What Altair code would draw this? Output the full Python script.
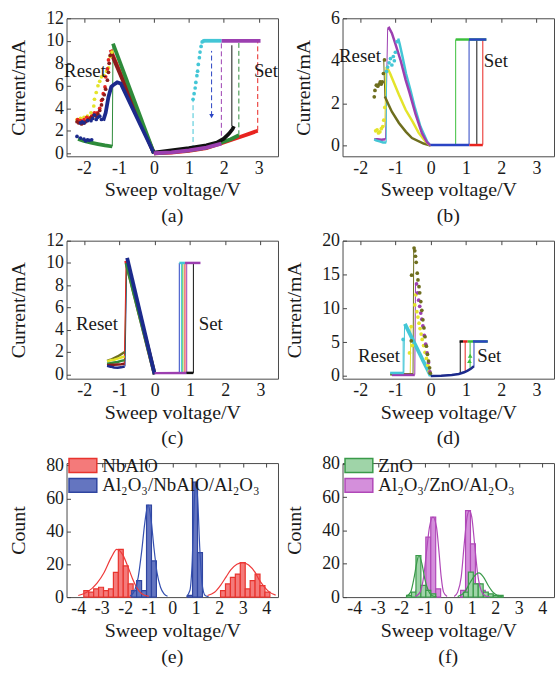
import altair as alt
import pandas as pd

FONT = "Liberation Serif"
TXT = "#1a1a1a"
MINUS = "replace(datum.label, '\u2212', '-')"

# ---------------- panel (a) ----------------
A_RED_RESET_V = [0, -1.24]
A_RED_RESET_I = [0, 9.2]
A_MAROON_RESET_V = [0, -1.22]
A_MAROON_RESET_I = [0, 8.9]
A_GREEN_RESET_V = [0, -1.17]
A_GREEN_RESET_I = [0, 9.75]
A_GREEN_DROP_V = [-1.17, -1.19]
A_GREEN_DROP_I = [9.7, 0.62]
A_GREEN_TAIL_V = [-1.19, -1.4, -1.6, -1.8, -2.0, -2.17]
A_GREEN_TAIL_I = [0.6, 0.7, 0.82, 0.95, 1.1, 1.28]
A_NAVY_RESET_V = [0, -0.95, -1.05, -1.15, -1.22, -1.3, -1.38, -1.45]
A_NAVY_RESET_I = [0, 6.2, 6.3, 6.1, 5.9, 5.0, 3.6, 2.9]
A_NAVY_PTS_V = [-1.5, -1.55, -1.6, -1.65, -1.7, -1.75, -1.8, -1.9, -2.0, -2.05, -2.1,
                -1.78, -1.85, -1.9, -1.95, -2.0, -2.1, -2.2]
A_NAVY_PTS_I = [3.0, 3.3, 3.2, 3.0, 3.4, 3.1, 2.9, 2.9, 2.7, 2.8, 2.7,
                1.2, 1.15, 1.2, 1.1, 1.25, 1.35, 1.5]
A_MAROON_PTS_V = [-1.25, -1.28, -1.3, -1.33, -1.38, -1.42, -1.47, -1.5, -1.55, -1.6, -1.65,
                  -1.72, -1.8, -1.88, -1.95, -2.0, -2.07, -2.15, -2.2]
A_MAROON_PTS_I = [8.7, 8.0, 7.2, 6.5, 5.7, 5.2, 4.8, 4.3, 3.8, 3.5, 3.3,
                  3.4, 3.2, 3.0, 2.8, 2.7, 2.6, 2.7, 2.8]
A_RED_PTS_V = [-1.3, -1.33, -1.38, -1.4, -1.45, -1.5, -1.55, -1.62, -1.7, -1.78, -1.85,
               -1.92, -2.0, -2.1, -2.18]
A_RED_PTS_I = [8.3, 7.5, 6.8, 5.9, 5.3, 4.7, 4.0, 3.6, 3.6, 3.3, 3.1, 3.2, 3.0, 2.9, 3.0]
A_YELLOW_PTS_V = [-1.2, -1.25, -1.3, -1.35, -1.42, -1.5, -1.55, -1.6, -1.65, -1.7, -1.72,
                  -1.8, -1.9, -2.0, -2.1, -2.2]
A_YELLOW_PTS_I = [9.0, 8.6, 7.6, 7.3, 6.9, 6.8, 6.4, 6.0, 5.4, 4.8, 4.2,
                  3.6, 3.3, 3.2, 3.1, 3.0]
A_RED_SET_V = [0, 0.5, 1.0, 1.5, 2.0, 2.4, 2.7, 2.97]
A_RED_SET_I = [0, 0.05, 0.2, 0.45, 0.95, 1.38, 1.7, 2.0]
A_RED_JUMP_V = [2.97, 2.97]
A_RED_JUMP_I = [2.0, 10.0]
A_GREEN_SET_V = [0, 1.0, 1.5, 1.9, 2.2, 2.43]
A_GREEN_SET_I = [0, 0.25, 0.5, 0.92, 1.25, 1.6]
A_GREEN_JUMP_V = [2.43, 2.43]
A_GREEN_JUMP_I = [1.6, 10.0]
A_BLACK_SET_V = [0, 0.5, 1.0, 1.5, 1.8, 2.0, 2.15, 2.25, 2.29]
A_BLACK_SET_I = [0.05, 0.25, 0.45, 0.7, 0.95, 1.3, 1.75, 2.15, 2.4]
A_BLACK_JUMP_V = [2.23, 2.23]
A_BLACK_JUMP_I = [2.4, 9.6]
A_PURPLE_SET_V = [0, 0.5, 1.0, 1.5, 1.93]
A_PURPLE_SET_I = [0, 0.08, 0.25, 0.5, 0.85]
A_PURPLE_JUMP_V = [1.93, 1.93]
A_PURPLE_JUMP_I = [0.85, 10.0]
A_PURPLE_TOP_V = [1.93, 3.05]
A_PURPLE_TOP_I = [10.0, 10.0]
A_CYAN_JUMP_V = [1.12, 1.12]
A_CYAN_JUMP_I = [0.3, 4.8]
A_CYAN_PTS_V = [1.12, 1.15, 1.18, 1.2, 1.23, 1.25, 1.27, 1.3, 1.32, 1.35, 1.38, 1.42]
A_CYAN_PTS_I = [4.8, 5.3, 5.8, 6.3, 6.9, 7.3, 7.9, 8.5, 9.0, 9.5, 9.9, 10.0]
A_CYAN_TOP_V = [1.42, 1.93]
A_CYAN_TOP_I = [10.0, 10.0]
A_BLUE_JUMP_V = [1.65, 1.65]
A_BLUE_JUMP_I = [3.3, 9.1]
A_BLUE_TRI_V = [1.65]
A_BLUE_TRI_I = [3.3]

# ---------------- panel (b) ----------------
B_PURPLE_V = [0, -0.1, -0.25, -0.43, -0.6, -0.71, -0.85, -1.0, -1.1, -1.18, -1.22]
B_PURPLE_I = [0, 0.15, 0.6, 1.5, 2.5, 3.1, 4.0, 4.8, 5.3, 5.55, 5.5]
B_PURPLE_DROP_V = [-1.22, -1.28]
B_PURPLE_DROP_I = [5.5, 0.3]
B_PURPLE_LOW_V = [-1.28, -1.4, -1.5, -1.6]
B_PURPLE_LOW_I = [0.3, 0.28, 0.3, 0.3]
B_CYAN_V = [0, -0.1, -0.29, -0.45, -0.57, -0.7, -0.8, -0.88, -0.92]
B_CYAN_I = [0, 0.2, 0.9, 1.8, 2.6, 3.4, 4.2, 4.8, 5.05]
B_CYAN_PTS_V = [-0.95, -1.0, -1.03, -1.06, -1.1, -1.14, -1.18, -1.22, -1.25]
B_CYAN_PTS_I = [4.9, 4.4, 4.0, 4.2, 3.8, 4.1, 3.9, 3.7, 3.5]
B_CYAN_DROP_V = [-1.25, -1.26]
B_CYAN_DROP_I = [3.5, 0.15]
B_CYAN_LOW_V = [-1.26, -1.35, -1.45, -1.55, -1.6]
B_CYAN_LOW_I = [0.15, 0.15, 0.2, 0.25, 0.3]
B_YELLOW_V = [0, -0.15, -0.34, -0.5, -0.71, -0.9, -1.05, -1.15, -1.25]
B_YELLOW_I = [0, 0.2, 0.6, 1.1, 1.69, 2.4, 3.0, 3.4, 3.73]
B_YELLOW_DROP_V = [-1.27, -1.3]
B_YELLOW_DROP_I = [3.7, 0.9]
B_YELLOW_PTS_V = [-1.3, -1.33, -1.36, -1.4, -1.44, -1.48, -1.52, -1.56]
B_YELLOW_PTS_I = [1.8, 1.2, 0.9, 0.8, 0.65, 0.6, 0.75, 0.7]
B_OLIVE_V = [0, -0.2, -0.53, -0.7, -0.9, -1.1, -1.2, -1.3]
B_OLIVE_I = [0, 0.1, 0.36, 0.65, 1.07, 1.6, 1.95, 2.32]
B_OLIVE_RISE_V = [-1.3, -1.33]
B_OLIVE_RISE_I = [2.3, 4.0]
B_OLIVE_PTS_V = [-1.31, -1.34, -1.37, -1.4, -1.43, -1.46, -1.5, -1.54, -1.58, -1.6]
B_OLIVE_PTS_I = [4.04, 3.4, 3.0, 2.9, 3.0, 2.9, 2.8, 2.85, 2.6, 2.3]
B_LOW_BLUE_V = [0, 1.1]
B_LOW_BLUE_I = [0.03, 0.03]
B_LOW_RED_V = [1.1, 1.48]
B_LOW_RED_I = [0.03, 0.03]
B_SET_GREEN_V = [0.71, 0.71]
B_SET_BLUE_V = [1.09, 1.09]
B_SET_BLACK_V = [1.31, 1.31]
B_SET_RED_V = [1.48, 1.48]
B_SET_I = [0.05, 5.0]
B_TOP_GREEN_V = [0.71, 1.58]
B_TOP_BLUE_V = [1.09, 1.58]
B_TOP_I = [5.0, 5.0]

# ---------------- panel (c) ----------------
C_RED_RESET_V = [0, -0.81]
C_RED_RESET_I = [0, 10.2]
C_GREEN_RESET_V = [0, -0.8]
C_GREEN_RESET_I = [0, 10.0]
C_BLUE_RESET_V = [0, -0.78]
C_BLUE_RESET_I = [0, 10.45]
C_BLUE_DROP_V = [-0.79, -0.84]
C_BLUE_DROP_I = [10.3, 0.7]
C_GREEN_DROP_V = [-0.8, -0.85]
C_GREEN_DROP_I = [10.0, 1.2]
C_RED_DROP_V = [-0.81, -0.86]
C_RED_DROP_I = [10.1, 0.95]
C_LOW_V = [-0.85, -0.95, -1.05, -1.15, -1.25, -1.35]
C_LOW_OLIVE_I = [2.0, 1.8, 1.6, 1.45, 1.3, 1.2]
C_LOW_YELLOW_I = [1.6, 1.5, 1.4, 1.3, 1.25, 1.15]
C_LOW_GREEN_I = [1.25, 1.2, 1.1, 1.05, 1.0, 0.95]
C_LOW_RED_I = [0.95, 0.9, 0.88, 0.85, 0.85, 0.8]
C_LOW_BLUE_I = [0.7, 0.62, 0.58, 0.6, 0.68, 0.75]
C_SET_I = [0.12, 10.0]
C_SET_BLUE_V = [0.70, 0.70]
C_SET_CYAN_V = [0.76, 0.76]
C_SET_GREEN_V = [0.80, 0.80]
C_SET_RED_V = [0.86, 0.86]
C_SET_PURPLE_V = [0.91, 0.91]
C_SET_BLACK_V = [1.10, 1.10]
C_FLAT_PURPLE_V = [0, 0.9]
C_FLAT_PURPLE_I = [0.1, 0.12]
C_FLAT_BLACK_V = [0.9, 1.1]
C_FLAT_BLACK_I = [0.12, 0.12]
C_TOP_CYAN_V = [0.7, 0.86]
C_TOP_PURPLE_V = [0.86, 1.3]
C_TOP_I = [10.0, 10.0]

# ---------------- panel (d) ----------------
D_OLIVE_PTS_V = [-0.47, -0.45, -0.43, -0.41, -0.38, -0.36, -0.33, -0.31, -0.28, -0.25, -0.22,
                 -0.19, -0.16, -0.12, -0.09, -0.06, -0.03, -0.01, -0.54, -0.55]
D_OLIVE_PTS_I = [18.9, 18.5, 17.7, 16.8, 15.2, 14.2, 13.2, 12.3, 11.0, 9.7, 8.3,
                 7.1, 5.8, 4.4, 3.2, 2.2, 1.2, 0.4, 14.9, 5.2]
D_OLIVE_JUMP_V = [-0.5, -0.48]
D_OLIVE_JUMP_I = [0.3, 18.8]
D_OLIVE_LOW_V = [-1.15, -0.5]
D_OLIVE_LOW_I = [0.25, 0.25]
D_PURPLE_PTS_V = [-0.4, -0.37, -0.34, -0.31, -0.28, -0.25, -0.22, -0.18, -0.14, -0.1, -0.06, -0.02]
D_PURPLE_PTS_I = [13.6, 12.3, 11.2, 10.3, 9.3, 8.4, 7.4, 6.0, 4.7, 3.4, 2.0, 0.6]
D_PURPLE_JUMP_V = [-0.45, -0.43]
D_PURPLE_JUMP_I = [0.2, 13.5]
D_PURPLE_LOW_V = [-1.1, -0.45]
D_PURPLE_LOW_I = [0.15, 0.15]
D_YELLOW_PTS_V = [-0.45, -0.42, -0.39, -0.36, -0.33, -0.3, -0.27, -0.24, -0.2, -0.16, -0.12,
                  -0.08, -0.04, -0.55, -0.6, -0.52]
D_YELLOW_PTS_I = [10.5, 12.0, 9.5, 8.7, 7.8, 7.0, 6.2, 5.4, 4.5, 3.5, 2.6,
                  1.6, 0.7, 7.3, 3.4, 4.5]
D_YELLOW_JUMP_V = [-0.58, -0.56]
D_YELLOW_JUMP_I = [0.3, 7.3]
D_CYAN_V = [0, -0.73]
D_CYAN_I = [0, 7.7]
D_CYAN_DROP_V = [-0.74, -0.76]
D_CYAN_DROP_I = [7.6, 0.45]
D_CYAN_JUMP_V = [-0.78, -0.78]
D_CYAN_JUMP_I = [0.45, 5.4]
D_CYAN_PT_V = [-0.78]
D_CYAN_PT_I = [5.4]
D_CYAN_LOW_V = [-1.15, -0.76]
D_CYAN_LOW_I = [0.45, 0.45]
D_BLUE_SET_V = [0, 0.3, 0.6, 0.8, 0.95, 1.05, 1.15, 1.23]
D_BLUE_SET_I = [0, 0.05, 0.15, 0.3, 0.55, 0.8, 1.1, 1.45]
D_SET_BLACK_V = [0.84, 0.84]
D_SET_BLACK_I = [0.3, 5.1]
D_SET_RED_V = [0.98, 0.98]
D_SET_RED_I = [0.55, 5.1]
D_SET_GREEN_V = [1.12, 1.12]
D_SET_GREEN_I = [0.9, 5.1]
D_SET_BLUE_V = [1.23, 1.23]
D_SET_BLUE_I = [1.45, 5.1]
D_GREEN_TRI_V = [1.1, 1.12]
D_GREEN_TRI_I = [2.2, 3.0]
D_TOP_BLACK_V = [0.82, 0.92]
D_TOP_RED_V = [0.92, 1.05]
D_TOP_GREEN_V = [1.05, 1.62]
D_TOP_BLUE_V = [1.2, 1.62]
D_TOP_I = [5.1, 5.1]

# ---------------- panel (e) histograms ----------------
E_GROUPS = ["NbAlO", "Al\u2082O\u2083/NbAlO/Al\u2082O\u2083"]
E_NB_C = [-3.66, -3.45, -3.24, -3.03, -2.82, -2.61, -2.40, -2.19, -1.98, -1.77,
          2.16, 2.37, 2.58, 2.79, 3.0, 3.21, 3.42, 3.63, 3.84, 4.05]
E_NB_H = [4, 3, 5, 6, 4, 5, 15, 29, 19, 8,
          4, 8, 12, 14, 21, 5, 10, 14, 7, 3]
E_AL_C = [-1.62, -1.41, -1.20, -0.99, -0.78, 0.76, 0.97, 1.18]
E_AL_H = [4, 10, 4, 56, 22, 1, 70, 27]
E_FIT_NB_NEG_V = [-4.0, -3.6, -3.2, -2.9, -2.6, -2.36, -2.1, -1.9, -1.7, -1.5, -1.3, -1.0]
E_FIT_NB_NEG_C = [1.0, 3.2, 8.5, 15, 24, 29, 25.5, 19, 11.5, 5.5, 2, 0.5]
E_FIT_NB_POS_V = [1.5, 1.8, 2.07, 2.3, 2.49, 2.75, 3.0, 3.25, 3.54, 3.7, 3.89, 4.1, 4.4]
E_FIT_NB_POS_C = [1, 3, 7.5, 12.5, 16.5, 20, 21, 19.5, 14.7, 10.5, 6.7, 3.5, 1.2]
E_FIT_AL_NEG_V = [-1.8, -1.6, -1.45, -1.3, -1.17, -1.03, -0.9, -0.78, -0.65, -0.5, -0.35, -0.2]
E_FIT_AL_NEG_C = [0.5, 4, 12, 28, 45, 56, 47, 30, 15, 6, 2, 0.5]
E_FIT_AL_POS_V = [0.6, 0.75, 0.85, 0.93, 1.0, 1.08, 1.17, 1.27, 1.4, 1.55]
E_FIT_AL_POS_C = [0.3, 4, 22, 55, 70, 60, 30, 8, 1, 0.2]

# ---------------- panel (f) histograms ----------------
F_GROUPS = ["ZnO", "Al\u2082O\u2083/ZnO/Al\u2082O\u2083"]
F_AL_C = [-1.27, -1.06, -0.85, -0.64, -0.43, 0.63, 0.84, 1.05, 1.26, 1.47]
F_AL_H = [4, 5, 36, 48, 5, 4, 52, 32, 8, 4]
F_ZN_C = [-1.67, -1.46, -1.27, -1.06, -0.85, -0.64,
          0.75, 0.96, 1.17, 1.38, 1.6, 1.81, 2.02, 2.23]
F_ZN_H = [1, 3, 25, 7, 4, 2,
          3, 15, 8, 8, 3, 2, 1, 1]
F_FIT_ZN_NEG_V = [-1.8, -1.6, -1.45, -1.35, -1.25, -1.12, -1.0, -0.85, -0.7, -0.5]
F_FIT_ZN_NEG_C = [0.3, 3, 12, 20, 25, 20, 11, 4, 1, 0.2]
F_FIT_ZN_POS_V = [0.4, 0.7, 0.9, 1.1, 1.3, 1.5, 1.7, 1.9, 2.1, 2.3]
F_FIT_ZN_POS_C = [0.3, 3, 8, 12.5, 14.5, 12, 7, 3, 1, 0.3]
F_FIT_AL_NEG_V = [-1.4, -1.2, -1.05, -0.92, -0.8, -0.65, -0.5, -0.4, -0.3, -0.2, -0.05]
F_FIT_AL_NEG_C = [0.3, 3, 12, 28, 42, 48, 42, 28, 12, 3, 0.3]
F_FIT_AL_POS_V = [0.25, 0.4, 0.55, 0.68, 0.8, 0.9, 1.0, 1.12, 1.25, 1.4, 1.55, 1.75]
F_FIT_AL_POS_C = [0.3, 3, 12, 32, 48, 52, 48, 32, 14, 4, 1, 0.2]

BIN_W = 0.21
W = 213
H1, H2, H3 = 139, 139, 135

RED, MAROON, GREEN, NAVY = "#e8231f", "#8b1c1c", "#2e8b3a", "#1c2a8c"
YELLOW, BLACK, CYAN, PURPLE = "#e4e42a", "#111111", "#43c6d6", "#9c3fb0"
BLUE, OLIVE, LGREEN = "#2a44c4", "#6e6e1e", "#3cc03c"

LINE_STYLES = {
    "dash": dict(strokeWidth=1, strokeDash=[5, 3]),
    "thin": dict(strokeWidth=1),
    "mid": dict(strokeWidth=2.5),
    "thick": dict(strokeWidth=3.8),
}


def iv_chart(spec, notes, xdom, ydom, yvals, h, cap):
    rows = []
    for sid, (v, i, col, sty) in enumerate(spec):
        for k, (a, b) in enumerate(zip(v, i)):
            rows.append({"v": a, "i": b, "sid": sid, "k": k, "col": col, "sty": sty})
    df = pd.DataFrame(rows)
    x = alt.X("v:Q", scale=alt.Scale(domain=xdom, nice=False, zero=False),
              axis=alt.Axis(values=[-2, -1, 0, 1, 2, 3], title="Sweep voltage/V", labelExpr=MINUS))
    y = alt.Y("i:Q", scale=alt.Scale(domain=ydom, nice=False, zero=False),
              axis=alt.Axis(values=yvals, title="Current/mA"))
    col = alt.Color("col:N", scale=None)
    layers = []
    for sty in ["dash", "thin", "thick", "mid"]:
        sub = df[df.sty == sty]
        if len(sub):
            layers.append(alt.Chart(sub).mark_line(**LINE_STYLES[sty]).encode(
                x=x, y=y, color=col, detail="sid:N", order="k:Q"))
    for sty, shape, size in [("dots", "circle", 14), ("tri", "triangle-down", 22), ("triu", "triangle-up", 22)]:
        sub = df[df.sty == sty]
        if len(sub):
            layers.append(alt.Chart(sub).mark_point(filled=True, shape=shape, size=size, opacity=1).encode(
                x=x, y=y, color=col))
    ndf = pd.DataFrame({"t": [n[0] for n in notes], "v": [n[1] for n in notes], "i": [n[2] for n in notes]})
    layers.append(alt.Chart(ndf).mark_text(align="left", baseline="middle", font=FONT, fontSize=19,
                                           color=TXT).encode(x=x, y=y, text="t:N"))
    return alt.layer(*layers).properties(
        width=W, height=h,
        title=alt.TitleParams(cap, orient="bottom", font=FONT, fontSize=20, fontWeight="normal",
                              color=TXT, offset=6))


def hist_chart(bars, fits, groups, fills, strokes, h, cap, ydom):
    rows = []
    for cs, hs, g in bars:
        for c, hh in zip(cs, hs):
            rows.append({"v": c - BIN_W / 2, "v2": c + BIN_W / 2, "c": hh, "z": 0, "grp": g})
    df = pd.DataFrame(rows)
    x = alt.X("v:Q", scale=alt.Scale(domain=[-4.5, 4.5], nice=False, zero=False),
              axis=alt.Axis(values=[-4, -3, -2, -1, 0, 1, 2, 3, 4], title="Sweep voltage/V", labelExpr=MINUS))
    y = alt.Y("c:Q", scale=alt.Scale(domain=ydom, nice=False, zero=False),
              axis=alt.Axis(values=[0, 20, 40, 60, 80], title="Count"))
    leg = alt.Legend(title=None, orient="none", legendX=7, legendY=-7, padding=0, rowPadding=-1,
                     symbolType="M-2,-1L2,-1L2,1L-2,1Z", symbolSize=196, symbolStrokeWidth=1.5,
                     labelFont=FONT, labelFontSize=19, labelColor=TXT, labelOffset=10, labelLimit=400)
    layers = [alt.Chart(df).mark_rect(strokeWidth=1.2).encode(
        x=x, x2="v2:Q", y=y, y2="z:Q",
        fill=alt.Fill("grp:N", scale=alt.Scale(domain=groups, range=fills), legend=leg),
        stroke=alt.Stroke("grp:N", scale=alt.Scale(domain=groups, range=strokes), legend=leg))]
    for fv, fc, colr in fits:
        fdf = pd.DataFrame({"v": fv, "c": fc})
        layers.append(alt.Chart(fdf).mark_line(interpolate="monotone", strokeWidth=1.2, color=colr).encode(
            x=x, y=y))
    return alt.layer(*layers).properties(
        width=W, height=h,
        title=alt.TitleParams(cap, orient="bottom", font=FONT, fontSize=20, fontWeight="normal",
                              color=TXT, offset=6))


spec_a = [
    (A_GREEN_DROP_V, A_GREEN_DROP_I, GREEN, "thin"),
    (A_RED_JUMP_V, A_RED_JUMP_I, RED, "dash"),
    (A_GREEN_JUMP_V, A_GREEN_JUMP_I, GREEN, "dash"),
    (A_BLACK_JUMP_V, A_BLACK_JUMP_I, BLACK, "thin"),
    (A_PURPLE_JUMP_V, A_PURPLE_JUMP_I, PURPLE, "dash"),
    (A_CYAN_JUMP_V, A_CYAN_JUMP_I, CYAN, "dash"),
    (A_BLUE_JUMP_V, A_BLUE_JUMP_I, BLUE, "dash"),
    (A_RED_RESET_V, A_RED_RESET_I, RED, "thick"),
    (A_MAROON_RESET_V, A_MAROON_RESET_I, MAROON, "thick"),
    (A_GREEN_RESET_V, A_GREEN_RESET_I, GREEN, "thick"),
    (A_NAVY_RESET_V, A_NAVY_RESET_I, NAVY, "thick"),
    (A_GREEN_TAIL_V, A_GREEN_TAIL_I, GREEN, "thick"),
    (A_RED_SET_V, A_RED_SET_I, RED, "thick"),
    (A_GREEN_SET_V, A_GREEN_SET_I, GREEN, "thick"),
    (A_BLACK_SET_V, A_BLACK_SET_I, BLACK, "thick"),
    (A_PURPLE_SET_V, A_PURPLE_SET_I, PURPLE, "thick"),
    (A_PURPLE_TOP_V, A_PURPLE_TOP_I, PURPLE, "thick"),
    (A_CYAN_TOP_V, A_CYAN_TOP_I, CYAN, "thick"),
    (A_YELLOW_PTS_V, A_YELLOW_PTS_I, YELLOW, "dots"),
    (A_RED_PTS_V, A_RED_PTS_I, RED, "dots"),
    (A_MAROON_PTS_V, A_MAROON_PTS_I, MAROON, "dots"),
    (A_NAVY_PTS_V, A_NAVY_PTS_I, NAVY, "dots"),
    (A_CYAN_PTS_V, A_CYAN_PTS_I, CYAN, "dots"),
    (A_BLUE_TRI_V, A_BLUE_TRI_I, BLUE, "tri"),
]
spec_b = [
    (B_PURPLE_DROP_V, B_PURPLE_DROP_I, PURPLE, "thin"),
    (B_CYAN_DROP_V, B_CYAN_DROP_I, CYAN, "thin"),
    (B_YELLOW_DROP_V, B_YELLOW_DROP_I, YELLOW, "thin"),
    (B_OLIVE_RISE_V, B_OLIVE_RISE_I, OLIVE, "thin"),
    (B_SET_GREEN_V, B_SET_I, LGREEN, "thin"),
    (B_SET_BLUE_V, B_SET_I, BLUE, "thin"),
    (B_SET_BLACK_V, B_SET_I, BLACK, "thin"),
    (B_SET_RED_V, B_SET_I, RED, "thin"),
    (B_OLIVE_V, B_OLIVE_I, OLIVE, "mid"),
    (B_YELLOW_V, B_YELLOW_I, YELLOW, "mid"),
    (B_CYAN_V, B_CYAN_I, CYAN, "mid"),
    (B_PURPLE_V, B_PURPLE_I, PURPLE, "mid"),
    (B_PURPLE_LOW_V, B_PURPLE_LOW_I, PURPLE, "mid"),
    (B_CYAN_LOW_V, B_CYAN_LOW_I, CYAN, "mid"),
    (B_LOW_BLUE_V, B_LOW_BLUE_I, BLUE, "mid"),
    (B_LOW_RED_V, B_LOW_RED_I, RED, "mid"),
    (B_TOP_GREEN_V, B_TOP_I, LGREEN, "mid"),
    (B_TOP_BLUE_V, B_TOP_I, BLUE, "mid"),
    (B_CYAN_PTS_V, B_CYAN_PTS_I, CYAN, "dots"),
    (B_OLIVE_PTS_V, B_OLIVE_PTS_I, OLIVE, "dots"),
    (B_YELLOW_PTS_V, B_YELLOW_PTS_I, YELLOW, "dots"),
]
spec_c = [
    (C_BLUE_DROP_V, C_BLUE_DROP_I, NAVY, "thin"),
    (C_GREEN_DROP_V, C_GREEN_DROP_I, GREEN, "thin"),
    (C_RED_DROP_V, C_RED_DROP_I, RED, "thin"),
    (C_SET_BLUE_V, C_SET_I, BLUE, "thin"),
    (C_SET_CYAN_V, C_SET_I, CYAN, "thin"),
    (C_SET_GREEN_V, C_SET_I, LGREEN, "thin"),
    (C_SET_RED_V, C_SET_I, RED, "thin"),
    (C_SET_PURPLE_V, C_SET_I, PURPLE, "thin"),
    (C_SET_BLACK_V, C_SET_I, BLACK, "thin"),
    (C_RED_RESET_V, C_RED_RESET_I, RED, "thick"),
    (C_GREEN_RESET_V, C_GREEN_RESET_I, GREEN, "thick"),
    (C_BLUE_RESET_V, C_BLUE_RESET_I, NAVY, "thick"),
    (C_FLAT_PURPLE_V, C_FLAT_PURPLE_I, PURPLE, "mid"),
    (C_FLAT_BLACK_V, C_FLAT_BLACK_I, BLACK, "mid"),
    (C_TOP_CYAN_V, C_TOP_I, CYAN, "mid"),
    (C_TOP_PURPLE_V, C_TOP_I, PURPLE, "mid"),
    (C_LOW_V, C_LOW_OLIVE_I, OLIVE, "mid"),
    (C_LOW_V, C_LOW_YELLOW_I, YELLOW, "mid"),
    (C_LOW_V, C_LOW_GREEN_I, GREEN, "mid"),
    (C_LOW_V, C_LOW_RED_I, MAROON, "mid"),
    (C_LOW_V, C_LOW_BLUE_I, NAVY, "mid"),
]
spec_d = [
    (D_OLIVE_JUMP_V, D_OLIVE_JUMP_I, OLIVE, "thin"),
    (D_PURPLE_JUMP_V, D_PURPLE_JUMP_I, PURPLE, "thin"),
    (D_YELLOW_JUMP_V, D_YELLOW_JUMP_I, YELLOW, "thin"),
    (D_CYAN_DROP_V, D_CYAN_DROP_I, CYAN, "thin"),
    (D_CYAN_JUMP_V, D_CYAN_JUMP_I, CYAN, "thin"),
    (D_SET_BLACK_V, D_SET_BLACK_I, BLACK, "thin"),
    (D_SET_RED_V, D_SET_RED_I, RED, "thin"),
    (D_SET_GREEN_V, D_SET_GREEN_I, LGREEN, "thin"),
    (D_SET_BLUE_V, D_SET_BLUE_I, BLUE, "thin"),
    (D_CYAN_V, D_CYAN_I, CYAN, "thick"),
    (D_OLIVE_LOW_V, D_OLIVE_LOW_I, OLIVE, "mid"),
    (D_PURPLE_LOW_V, D_PURPLE_LOW_I, PURPLE, "mid"),
    (D_CYAN_LOW_V, D_CYAN_LOW_I, CYAN, "mid"),
    (D_BLUE_SET_V, D_BLUE_SET_I, NAVY, "mid"),
    (D_TOP_BLACK_V, D_TOP_I, BLACK, "mid"),
    (D_TOP_RED_V, D_TOP_I, RED, "mid"),
    (D_TOP_GREEN_V, D_TOP_I, LGREEN, "mid"),
    (D_TOP_BLUE_V, D_TOP_I, BLUE, "mid"),
    (D_YELLOW_PTS_V, D_YELLOW_PTS_I, YELLOW, "dots"),
    (D_PURPLE_PTS_V, D_PURPLE_PTS_I, PURPLE, "dots"),
    (D_OLIVE_PTS_V, D_OLIVE_PTS_I, OLIVE, "dots"),
    (D_CYAN_PT_V, D_CYAN_PT_I, CYAN, "dots"),
    (D_GREEN_TRI_V, D_GREEN_TRI_I, LGREEN, "triu"),
]

pa = iv_chart(spec_a, [("Reset", -2.57, 7.3), ("Set", 2.86, 7.3)], [-2.5, 3.55], [-0.27, 12],
              [0, 2, 4, 6, 8, 10, 12], H1, "(a)")
pb = iv_chart(spec_b, [("Reset", -2.6, 4.2), ("Set", 1.51, 4.0)], [-2.5, 3.5], [-0.5, 6],
              [0, 2, 4, 6], H1, "(b)")
pc = iv_chart(spec_c, [("Reset", -2.23, 4.55), ("Set", 1.25, 4.55)], [-2.5, 3.5], [-0.4, 12],
              [0, 2, 4, 6, 8, 10, 12], H2, "(c)")
pd_ = iv_chart(spec_d, [("Reset", -2.06, 3.0), ("Set", 1.32, 3.0)], [-2.5, 3.5], [-0.4, 20],
               [0, 5, 10, 15, 20], H2, "(d)")

pe = hist_chart(
    [(E_NB_C, E_NB_H, E_GROUPS[0]), (E_AL_C, E_AL_H, E_GROUPS[1])],
    [(E_FIT_NB_NEG_V, E_FIT_NB_NEG_C, "#ee3a3a"), (E_FIT_NB_POS_V, E_FIT_NB_POS_C, "#ee3a3a"),
     (E_FIT_AL_NEG_V, E_FIT_AL_NEG_C, "#3550b0"), (E_FIT_AL_POS_V, E_FIT_AL_POS_C, "#3550b0")],
    E_GROUPS, ["#f47a7a", "#6475c0"], ["#e8342e", "#2f45a0"], H3, "(e)", [0, 81.5])
pf = hist_chart(
    [(F_AL_C, F_AL_H, F_GROUPS[1]), (F_ZN_C, F_ZN_H, F_GROUPS[0])],
    [(F_FIT_AL_NEG_V, F_FIT_AL_NEG_C, "#b048b8"), (F_FIT_AL_POS_V, F_FIT_AL_POS_C, "#b048b8"),
     (F_FIT_ZN_NEG_V, F_FIT_ZN_NEG_C, "#3a9a4a"), (F_FIT_ZN_POS_V, F_FIT_ZN_POS_C, "#3a9a4a")],
    F_GROUPS, ["#9fd4a8", "#d48fdb"], ["#3a9a4a", "#b048b8"], H3, "(f)", [0, 80.5])

top = alt.concat(pa, pb, pc, pd_, pe, pf, columns=2, spacing={"row": 85, "column": 65},
                 bounds="flush").resolve_scale(fill="independent", stroke="independent")

chart = top.properties(
    padding={"left": 8, "top": 6, "right": 0, "bottom": 0},
    background="white",
).configure_view(
    stroke="#4a4a4a", strokeWidth=1
).configure_axis(
    labelFont=FONT, titleFont=FONT, labelFontSize=18, titleFontSize=20, titleFontWeight="normal",
    labelColor=TXT, titleColor=TXT, domain=False, ticks=False, grid=True, gridDash=[4, 3000],
    gridColor="#444444", gridOpacity=1, gridWidth=1, labelFlush=False, labelOverlap=False,
    labelPadding=3,
).configure_axisX(titlePadding=3).configure_axisY(titlePadding=17)

chart.save("out.html", embed_options={"renderer": "svg", "actions": False})
